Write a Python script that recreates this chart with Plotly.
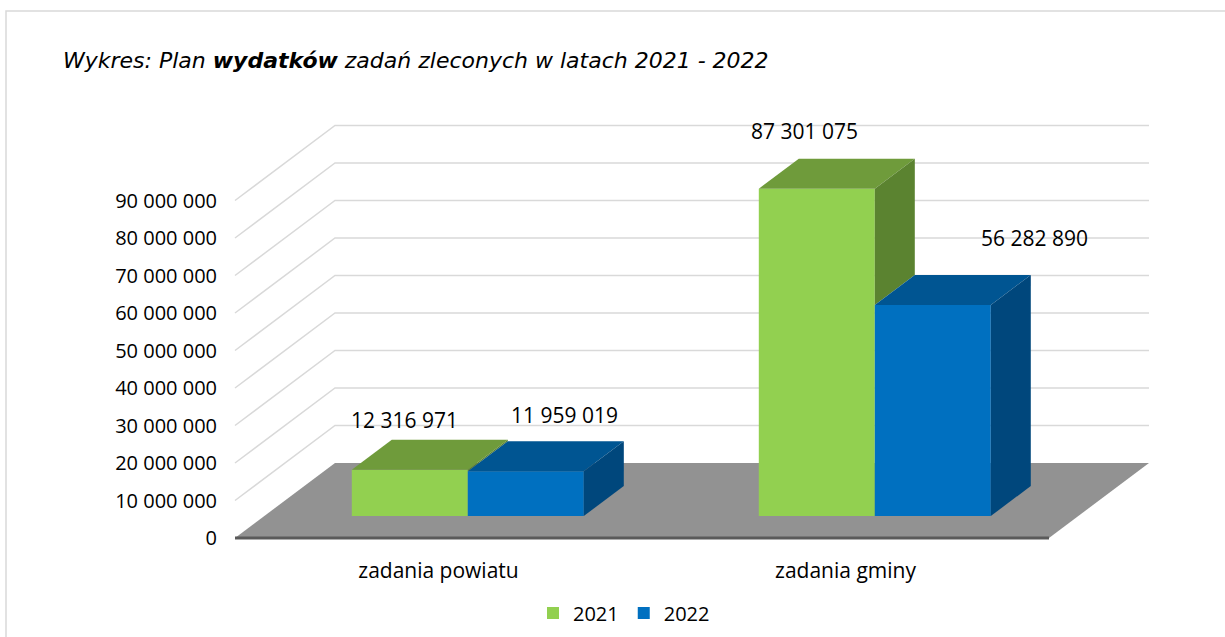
import plotly.graph_objects as go

# ---- data ----
categories = ["zadania powiatu", "zadania gminy"]
series_names = ["2021", "2022"]
values_2021 = [12316971, 87301075]
values_2022 = [11959019, 56282890]
y_ticks = [0, 10000000, 20000000, 30000000, 40000000, 50000000,
           60000000, 70000000, 80000000, 90000000]
y_tick_labels = ["0", "10 000 000", "20 000 000", "30 000 000", "40 000 000",
                 "50 000 000", "60 000 000", "70 000 000", "80 000 000", "90 000 000"]

# ---- 3D oblique geometry (style constants) ----
KX = 100 / 407.0          # depth shift in category units
DY = 20000000             # depth shift in value units
D0, D1 = 0.293, 0.693     # bar depth range (fraction of floor depth)
W = 0.285                 # bar width in category units
FONT = "Open Sans"

colors = {
    "2021": dict(front="#92D050", top="#6F9B3B", side="#5B8330"),
    "2022": dict(front="#0070C0", top="#005592", side="#00477C"),
}

def fmt(v):
    return f"{v:,}".replace(",", " ")

def P(c, v, d):
    return c + d * KX, v + d * DY

fig = go.Figure()

series = [values_2021, values_2022]
offsets = [-W, 0.0]

# front faces as real bars
for s, name in enumerate(series_names):
    fig.add_trace(go.Bar(
        x=[i + 0.5 + D0 * KX for i in range(len(categories))],
        y=series[s], base=D0 * DY, offset=offsets[s], width=W,
        name=name, marker=dict(color=colors[name]["front"], line=dict(width=0)),
        hoverinfo="skip",
    ))

# top and side faces
for s, name in enumerate(series_names):
    for i, v in enumerate(series[s]):
        cx0 = i + 0.5 + offsets[s]
        cx1 = cx0 + W
        pts = [P(cx0, v, D0), P(cx1, v, D0), P(cx1, v, D1), P(cx0, v, D1), P(cx0, v, D0)]
        fig.add_trace(go.Scatter(x=[p[0] for p in pts], y=[p[1] for p in pts],
                                 mode="lines", line=dict(width=0), fill="toself",
                                 fillcolor=colors[name]["top"], showlegend=False,
                                 hoverinfo="skip"))
        lo = 0
        if s == 0:
            lo = min(v, series[1][i])
        if lo < v:
            pts = [P(cx1, lo, D0), P(cx1, v, D0), P(cx1, v, D1), P(cx1, lo, D1), P(cx1, lo, D0)]
            fig.add_trace(go.Scatter(x=[p[0] for p in pts], y=[p[1] for p in pts],
                                     mode="lines", line=dict(width=0), fill="toself",
                                     fillcolor=colors[name]["side"], showlegend=False,
                                     hoverinfo="skip"))

# gridlines (left and back wall) and floor as shapes below traces
shapes = []
n = len(categories)
for t in y_ticks[1:]:
    x1, y1 = P(0, t, 1)
    x2, y2 = P(n, t, 1)
    shapes.append(dict(type="path", xref="x", yref="y", layer="below",
                       path=f"M 0,{t} L {x1},{y1} L {x2},{y2}",
                       line=dict(color="#D9D9D9", width=1.5)))
f1 = P(n, 0, 1)
f2 = P(0, 0, 1)
shapes.append(dict(type="path", xref="x", yref="y", layer="below",
                   path=f"M 0,0 L {n},0 L {f1[0]},{f1[1]} L {f2[0]},{f2[1]} Z",
                   fillcolor="#929292", line=dict(width=0)))
shapes.append(dict(type="line", xref="x", yref="y", layer="below",
                   x0=0, y0=0, x1=n, y1=0, line=dict(color="#5A5A5A", width=3)))
# chart border
shapes.append(dict(type="rect", xref="paper", yref="paper",
                   x0=(6 - 230) / 995, x1=(1232 - 230) / 995,
                   y0=(550 - 650) / 550, y1=(550 - 11) / 550,
                   line=dict(color="#D9D9D9", width=1.5), fillcolor="rgba(0,0,0,0)",
                   layer="below"))

# data labels
label_nudge = {(0, 0): (-45, 20), (0, 1): (-52, 28), (1, 0): (-1, 26), (1, 1): (62, 37)}
annotations = []
for s, name in enumerate(series_names):
    for i, v in enumerate(series[s]):
        cx = i + 0.5 + offsets[s] + W / 2
        ax, ay = P(cx, v, D1)
        dx, dy = label_nudge[(s, i)]
        annotations.append(dict(x=ax, y=ay, xref="x", yref="y", text=fmt(v),
                                showarrow=False, xshift=dx, yshift=dy,
                                font=dict(family=FONT, size=21, color="#000000")))

fig.update_layout(
    width=1225, height=637,
    margin=dict(l=230, r=0, t=0, b=87),
    paper_bgcolor="white", plot_bgcolor="white",
    barmode="overlay",
    title=dict(text="<i>Wykres: Plan <b>wydatków</b> zadań zleconych w latach 2021 - 2022</i>",
               x=63 / 1225, xanchor="left", xref="container",
               y=1 - 60 / 637, yanchor="middle", yref="container",
               font=dict(family="DejaVu Sans", size=22, color="#000000")),
    xaxis=dict(range=[-5 / 407, 990 / 407], tickvals=[0.5 + i for i in range(n)],
               ticktext=categories, showgrid=False, zeroline=False, showline=False,
               ticks="", ticklabelstandoff=6,
               tickfont=dict(family=FONT, size=21, color="#000000")),
    yaxis=dict(range=[-12 / 37.5 * 1e7, 538 / 37.5 * 1e7], tickvals=y_ticks,
               ticktext=y_tick_labels, showgrid=False, zeroline=False, showline=False,
               ticks="", ticklabelstandoff=12,
               tickfont=dict(family=FONT, size=20, color="#000000")),
    legend=dict(orientation="h", xref="container", yref="container",
                x=624 / 1225, xanchor="center", y=1 - 613 / 637, yanchor="middle",
                font=dict(family=FONT, size=20, color="#000000"),
                itemwidth=30, bgcolor="rgba(0,0,0,0)"),
    annotations=annotations,
    shapes=shapes,
    showlegend=True,
)

fig.write_html("out.html", config={"displayModeBar": False},
               post_script="document.body.style.margin='0px';")
